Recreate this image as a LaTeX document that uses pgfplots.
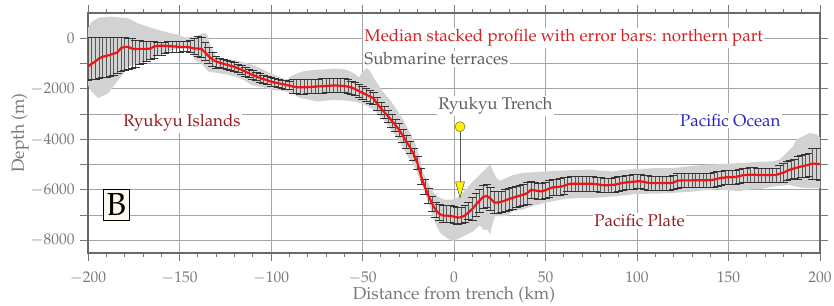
\documentclass[border=0pt]{standalone}
\usepackage[T1]{fontenc}
\usepackage{mathpazo}
\usepackage{pgfplots}
\usepackage{pgfplotstable}
\pgfplotsset{compat=1.18}
\definecolor{titlered}{RGB}{214,32,32}
\definecolor{darkred}{RGB}{150,30,35}
\definecolor{oceanblue}{RGB}{40,40,195}
\definecolor{graytext}{RGB}{95,95,95}
\definecolor{tickgray}{RGB}{120,120,120}
\definecolor{bandgray}{RGB}{210,210,210}
\definecolor{framegray}{RGB}{105,105,105}
\definecolor{gridgray}{RGB}{165,165,165}
\definecolor{cream}{RGB}{251,249,238}
\definecolor{medred}{RGB}{240,20,20}

\pgfplotstableread{
x y ep em
-200 -1120 1150 530
-198 -1010 1050 620
-196 -920 970 700
-194 -800 860 800
-192 -730 790 830
-190 -700 760 850
-188 -660 720 850
-186 -610 660 840
-184 -560 600 820
-182 -390 420 900
-180 -340 365 910
-178 -340 350 880
-176 -410 400 780
-174 -430 370 720
-172 -420 330 620
-170 -420 315 570
-168 -420 300 500
-166 -410 280 420
-164 -330 200 450
-162 -300 160 380
-160 -300 140 360
-158 -300 160 300
-156 -310 180 250
-154 -320 200 230
-152 -330 220 220
-150 -340 235 215
-148 -350 240 180
-146 -340 230 160
-144 -370 280 180
-142 -400 400 250
-140 -410 475 315
-138 -420 450 330
-136 -560 400 300
-134 -720 375 285
-132 -840 300 280
-130 -920 195 265
-128 -970 170 170
-126 -1010 170 170
-124 -1050 170 170
-122 -1090 170 170
-120 -1130 170 170
-118 -1190 170 170
-116 -1250 170 170
-114 -1320 170 170
-112 -1390 170 170
-110 -1450 170 170
-108 -1510 170 170
-106 -1570 170 170
-104 -1620 170 170
-102 -1660 160 160
-100 -1720 160 160
-98 -1750 160 160
-96 -1780 160 160
-94 -1810 160 160
-92 -1840 160 160
-90 -1870 160 160
-88 -1910 300 260
-86 -1935 300 260
-84 -1940 300 260
-82 -1940 300 260
-80 -1935 300 260
-78 -1925 300 260
-76 -1915 300 260
-74 -1905 300 260
-72 -1900 300 260
-70 -1890 300 260
-68 -1880 300 260
-66 -1870 300 260
-64 -1870 300 260
-62 -1880 300 260
-60 -1895 300 260
-58 -1915 300 260
-56 -1950 260 260
-54 -2010 260 260
-52 -2090 260 260
-50 -2160 260 260
-48 -2230 260 260
-46 -2300 260 260
-44 -2380 250 250
-42 -2590 250 250
-40 -2770 250 250
-38 -2930 250 250
-36 -3090 250 250
-34 -3260 250 250
-32 -3440 250 250
-30 -3630 250 250
-28 -3850 250 250
-26 -4090 250 250
-24 -4320 250 250
-22 -4590 250 250
-20 -4930 250 250
-18 -5460 300 300
-16 -5870 300 300
-14 -6230 300 300
-12 -6540 300 300
-10 -6800 300 300
-8 -6950 400 260
-6 -7020 400 260
-4 -7020 400 260
-2 -7025 400 260
0 -7060 400 260
2 -7100 400 260
4 -7080 400 260
6 -7010 400 260
8 -6890 400 260
10 -6750 450 450
12 -6590 450 450
14 -6420 450 450
16 -6280 450 450
18 -6240 450 450
20 -6350 450 450
22 -6500 430 430
24 -6500 430 430
26 -6470 430 430
28 -6420 430 430
30 -6360 430 430
32 -6320 430 430
34 -6270 430 430
36 -6230 430 430
38 -6190 430 430
40 -6130 430 430
42 -6000 330 330
44 -6020 330 330
46 -6050 330 330
48 -6060 330 330
50 -6010 330 330
52 -5950 330 330
54 -5900 330 330
56 -5890 330 330
58 -5870 330 330
60 -5850 330 330
62 -5780 280 280
64 -5760 280 280
66 -5760 280 280
68 -5755 280 280
70 -5755 280 280
72 -5755 280 280
74 -5755 280 280
76 -5760 280 280
78 -5780 280 280
80 -5800 280 280
82 -5820 280 280
84 -5815 280 280
86 -5805 280 280
88 -5795 280 280
90 -5760 280 280
92 -5730 280 280
94 -5705 280 280
96 -5690 280 280
98 -5680 280 280
100 -5665 280 280
102 -5660 280 280
104 -5690 280 280
106 -5720 280 280
108 -5730 280 280
110 -5730 280 280
112 -5730 280 280
114 -5730 280 280
116 -5730 280 280
118 -5730 280 280
120 -5710 280 280
122 -5640 280 280
124 -5625 280 280
126 -5625 280 280
128 -5625 280 280
130 -5625 280 280
132 -5620 280 280
134 -5620 280 280
136 -5620 280 280
138 -5615 280 280
140 -5610 280 280
142 -5600 280 280
144 -5560 280 280
146 -5530 280 280
148 -5510 280 280
150 -5500 280 280
152 -5500 280 280
154 -5490 280 280
156 -5450 280 280
158 -5420 280 280
160 -5410 280 280
162 -5400 280 280
164 -5400 280 280
166 -5410 280 280
168 -5410 280 280
170 -5410 280 280
172 -5410 280 280
174 -5410 280 280
176 -5410 280 280
178 -5360 330 330
180 -5320 380 380
182 -5250 380 380
184 -5190 380 380
186 -5150 380 380
188 -5110 450 450
190 -5070 450 450
192 -5040 450 450
194 -5000 450 450
196 -4960 620 620
198 -4970 620 620
200 -4980 620 620
}\med

\begin{document}
\begin{tikzpicture}
\path[use as bounding box] (0,0) rectangle (834bp,306bp);
\begin{axis}[
  at={(88bp,53bp)}, anchor=south west,
  scale only axis, width=732bp, height=240bp,
  xmin=-200, xmax=200, ymin=-8500, ymax=1000,
  xtick={-200,-150,...,200},
  minor x tick num=4,
  ytick={-8000,-7000,...,0},
  yticklabels={$-8000$,,$-6000$,,$-4000$,,$-2000$,,$0$},
  tick align=outside,
  major tick length=8bp, minor tick length=4bp,
  tick style={tickgray, line width=0.8bp},
  xmajorgrids, ymajorgrids,
  grid style={gridgray, line width=0.8bp},
  axis line style={framegray, line width=2.5bp},
  ticklabel style={font=\fontsize{15.5}{17}\selectfont, text=tickgray},
  xticklabel style={yshift=-7bp},
  yticklabel style={xshift=-2bp},
  label style={font=\fontsize{17.5}{19}\selectfont, text=tickgray},
  xlabel={Distance from trench (km)},
  ylabel={Depth (m)},
  xlabel style={at={(axis description cs:0.5,-0.175)}, anchor=center},
  ylabel style={at={(axis description cs:-0.0929,0.5)}, anchor=center, rotate=0},
]
% gray envelope
\addplot[fill=bandgray, draw=none, forget plot] coordinates {
(-200,400) (-198,655) (-194,815) (-188,855) (-183,830) (-178,790) (-173,600) (-168,480)
(-165,400) (-160,300) (-156,220) (-151,150) (-147,30) (-143,50) (-140,120) (-137,200)
(-135,180) (-133,-300) (-130,-700) (-127,-800) (-120,-860) (-115,-950) (-110,-1060)
(-105,-1220) (-100,-1390) (-96,-1520) (-93,-1600) (-91,-1620) (-89,-1500) (-86,-1400)
(-82,-1300) (-76,-1250) (-70,-1230) (-65,-1200) (-60,-1230) (-57,-1300) (-54,-1420)
(-52,-1550) (-50,-1350) (-48,-1180) (-46,-1280) (-44,-1550) (-42,-1780) (-39,-2100)
(-35,-2440) (-31,-2850) (-27.7,-3230) (-24,-3750) (-21,-4200) (-18.5,-4800) (-16.7,-5330)
(-14,-5750) (-11,-6120) (-8,-6300) (-5,-6390) (-1,-6390) (2,-6300) (5,-6100) (8.7,-5790)
(12,-5550) (14.2,-5400) (17.8,-5140) (19.7,-5005) (21,-5200) (23,-5500) (25,-5650)
(28,-5550) (32,-5420) (37.7,-5330) (44,-5300) (50.6,-5270) (56,-5250) (61.6,-5230)
(68,-5210) (74.3,-5200) (80,-5240) (87,-5270) (94,-5200) (101.6,-5170) (110,-5140)
(120,-5140) (130,-5050) (138,-5005) (146,-4980) (156,-4940) (165,-4900) (174.5,-4870)
(178,-4800) (181.7,-4540) (185,-4300) (187,-4020) (190,-3900) (194.5,-3750) (198,-3800)
(200,-3920)
(200,-5930) (197,-5930) (193,-5930) (189,-5900) (183,-5810) (178,-5840) (174,-5870)
(168,-5960) (161,-5990) (156,-6050) (150,-6020) (144,-5980) (138,-6010) (130,-6070)
(120,-6120) (110,-6150) (100,-6160) (92,-6230) (87,-6260) (80,-6300) (74,-6330)
(68,-6330) (61.6,-6350) (56,-6420) (50.6,-6500) (44,-6620) (37.7,-6780) (32,-6850)
(28.6,-7045) (24,-7045) (22.4,-7045) (20.5,-7500) (19.7,-7770) (18.5,-7600) (16,-7570)
(14,-7400) (10.6,-7640) (5,-7840) (2,-7950) (-0.5,-8030) (-3,-7950) (-7.6,-7700)
(-10,-7350) (-12,-6900) (-14,-6500) (-16,-6100) (-18,-5700) (-20,-5350) (-22,-5000)
(-25,-4700) (-28,-4300) (-31,-3950) (-34,-3650) (-37,-3360) (-40,-3100) (-44,-2830)
(-47,-2700) (-51,-2570) (-55,-2500) (-60,-2460) (-66,-2440) (-70,-2470) (-75,-2500)
(-80,-2420) (-84,-2370) (-88,-2200) (-93,-2080) (-99.7,-2050) (-104,-1950) (-110.6,-1845)
(-115,-1650) (-119.7,-1515) (-125,-1420) (-128.8,-1380) (-134.3,-1320) (-138,-1000)
(-141.5,-860) (-144,-500) (-147,-395) (-150,-420) (-154,-460) (-159.7,-595) (-165,-790)
(-172.5,-990) (-178,-1120) (-183.4,-1650) (-188.9,-2170) (-194.3,-2370) (-198,-2110)
(-200,-1845)
} -- cycle;
% error bars
\addplot[draw=none, mark=none, forget plot,
  error bars/.cd, y dir=both, y explicit,
  error bar style={draw=black!65, line width=0.4bp},
  error mark options={draw=black!80, line width=0.45bp, mark size=4.3bp, rotate=90}]
  table[x=x, y=y, y error plus=ep, y error minus=em] {\med};
% median
\addplot[medred, line width=2.2bp, mark=none, forget plot] table[x=x, y=y] {\med};
% trench marker
\addplot[black!65, line width=0.8bp, forget plot] coordinates {(3.3,-3500) (3.3,-5680)};
\addplot[fill=yellow, draw=black!70, line width=0.5bp, forget plot] coordinates {(0.85,-5680) (5.75,-5680) (3.3,-6310) (0.85,-5680)};
\addplot[only marks, mark=*, mark size=5bp, mark options={fill=yellow, draw=black!60, line width=0.5bp}, forget plot] coordinates {(3.3,-3500)};
% annotations
\node[anchor=base west, fill=white, inner sep=1.5bp, text=titlered, font=\fontsize{17}{19}\selectfont] at (axis cs:-49.7,-135) {Median stacked profile with error bars: northern part};
\node[anchor=base west, fill=white, inner sep=1.5bp, text=graytext, font=\fontsize{17}{19}\selectfont] at (axis cs:-49.9,-1055) {Submarine terraces};
\node[anchor=base west, fill=white, inner sep=1.5bp, text=graytext, font=\fontsize{17}{19}\selectfont] at (axis cs:-9.5,-2830) {Ryukyu Trench};
\node[anchor=base west, fill=white, inner sep=1.5bp, text=oceanblue, font=\fontsize{17}{19}\selectfont] at (axis cs:122.6,-3490) {Pacific Ocean};
\node[anchor=base west, fill=white, inner sep=1.5bp, text=darkred, font=\fontsize{17}{19}\selectfont] at (axis cs:-181.6,-3490) {Ryukyu Islands};
\node[anchor=base west, fill=white, inner sep=1.5bp, text=darkred, font=\fontsize{17}{19}\selectfont] at (axis cs:75.8,-7465) {Pacific Plate};
\node[draw=black, fill=cream, line width=0.6bp, minimum width=26bp, minimum height=31bp, inner sep=0pt, font=\fontsize{32}{32}\selectfont] at (axis cs:-184.5,-6597) {B};
\end{axis}
\end{tikzpicture}
\end{document}
